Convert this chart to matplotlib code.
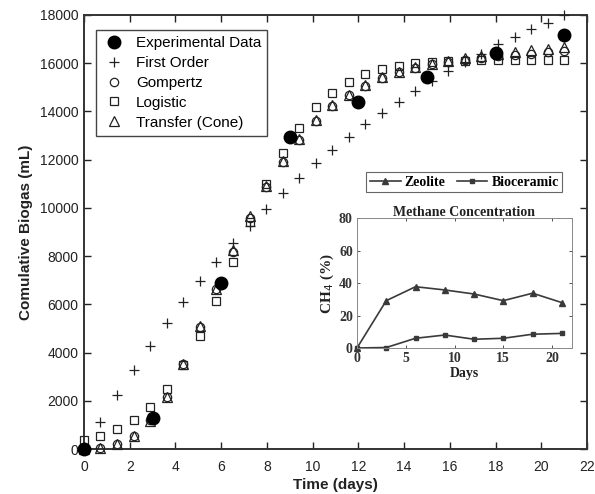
import matplotlib
matplotlib.use("Agg")
import matplotlib.pyplot as plt

# ---------------- data ----------------
exp_days = [0, 3, 6, 9, 12, 15, 18, 21]
exp_biogas = [0, 1300, 6900, 12950, 14400, 15430, 16440, 17170]

model_days = [0.00, 0.72, 1.45, 2.17, 2.90, 3.62, 4.34, 5.07, 5.79, 6.52,
              7.24, 7.97, 8.69, 9.41, 10.14, 10.86, 11.59, 12.31, 13.03, 13.76,
              14.48, 15.21, 15.93, 16.66, 17.38, 18.10, 18.83, 19.55, 20.28, 21.00]

first_order = [0, 1130, 2240, 3280, 4270, 5210, 6090, 6970, 7770, 8530,
               9230, 9950, 10620, 11250, 11850, 12390, 12950, 13470, 13950, 14400,
               14860, 15260, 15680, 16060, 16400, 16780, 17100, 17400, 17680, 18000]

gompertz = [0, 60, 200, 550, 1200, 2170, 3530, 5050, 6620, 8160,
            9570, 10850, 11920, 12820, 13600, 14220, 14680, 15050, 15380, 15620,
            15800, 15950, 16060, 16150, 16230, 16300, 16350, 16400, 16450, 16500]

logistic = [370, 550, 815, 1200, 1730, 2490, 3470, 4690, 6150, 7740,
            9430, 11000, 12260, 13330, 14170, 14780, 15230, 15550, 15750, 15890,
            16000, 16060, 16090, 16110, 16120, 16130, 16140, 16140, 16150, 16150]

transfer = [0, 60, 200, 550, 1150, 2170, 3530, 5120, 6650, 8250,
            9650, 10900, 11950, 12850, 13650, 14250, 14700, 15080, 15420, 15650,
            15830, 15980, 16100, 16200, 16300, 16380, 16450, 16530, 16600, 16680]

inset_days = [0, 3, 6, 9, 12, 15, 18, 21]
zeolite = [0, 29.2, 37.8, 35.8, 33.3, 29.2, 33.8, 28.0]
bioceramic = [0, 0.3, 6.0, 8.0, 5.4, 6.0, 8.5, 9.0]

# ---------------- figure ----------------
W, H = 595, 494
fig = plt.figure(figsize=(W / 100, H / 100), dpi=100)
sans = ['Liberation Sans', 'DejaVu Sans']
serif = ['Liberation Serif', 'DejaVu Serif']

ax = fig.add_axes([84 / W, 45 / H, (587 - 84) / W, (449 - 15) / H])
ink = '#222222'

ax.plot(model_days, first_order, ls='none', marker='+', ms=7, mew=0.9,
        color=ink, label='First Order', clip_on=False, zorder=3)
ax.plot(model_days, gompertz, ls='none', marker='o', ms=6, mew=0.9,
        mfc='none', mec=ink, label='Gompertz', clip_on=False, zorder=3)
ax.plot(model_days, logistic, ls='none', marker='s', ms=5.5, mew=0.9,
        mfc='none', mec=ink, label='Logistic', clip_on=False, zorder=3)
ax.plot(model_days, transfer, ls='none', marker='^', ms=6.5, mew=0.9,
        mfc='none', mec=ink, label='Transfer (Cone)', clip_on=False, zorder=3)
ax.plot(exp_days, exp_biogas, ls='none', marker='o', ms=9,
        color='black', label='Experimental Data', clip_on=False, zorder=4)

ax.set_xlim(0, 22)
ax.set_ylim(0, 18000)
ax.set_xticks(range(0, 23, 2))
ax.set_yticks(range(0, 18001, 2000))
ax.tick_params(direction='in', length=5, width=1.0, top=True, right=True,
               labelsize=10, colors=ink, pad=4)
ax.tick_params(axis='x', pad=8)
for lab in ax.get_xticklabels() + ax.get_yticklabels():
    lab.set_family(sans)
for s in ax.spines.values():
    s.set_linewidth(1.4)
    s.set_color('#333333')

ax.set_xlabel('Time (days)', fontsize=11, fontweight='bold', family=sans,
              labelpad=3, color=ink)
ax.set_ylabel('Comulative Biogas (mL)', fontsize=11, fontweight='bold',
              family=sans, labelpad=5, color=ink)

handles, labels = ax.get_legend_handles_labels()
order = [4, 0, 1, 2, 3]
leg = ax.legend([handles[i] for i in order], [labels[i] for i in order],
                loc='upper left', bbox_to_anchor=(0.024, 0.965),
                borderaxespad=0, fancybox=False, framealpha=1,
                edgecolor='#444444', prop={'family': sans, 'size': 11},
                labelspacing=0.38, handlelength=1.6, handletextpad=0.6,
                borderpad=0.4)
leg.get_frame().set_linewidth(1.0)

# ---------------- inset ----------------
ia = fig.add_axes([357 / W, (494 - 348) / H, (571.6 - 357) / W, (348 - 218.3) / H])
line_c = '#3a3a3a'
ia.plot(inset_days, zeolite, color=line_c, lw=1.2, marker='^', ms=4,
        label='Zeolite', clip_on=False)
ia.plot(inset_days, bioceramic, color=line_c, lw=1.2, marker='s', ms=3,
        label='Bioceramic', clip_on=False)
ia.set_xlim(0, 22)
ia.set_ylim(0, 80)
ia.set_xticks([0, 5, 10, 15, 20])
ia.set_yticks([0, 20, 40, 60, 80])
ia.tick_params(direction='in', length=2.5, width=0.6, top=True, right=True,
               labelsize=10, colors='#333333', pad=3)
for lab in ia.get_xticklabels() + ia.get_yticklabels():
    lab.set_family(serif)
    lab.set_fontweight('bold')
for s in ia.spines.values():
    s.set_linewidth(0.7)
    s.set_color('#888888')
ia.set_title('Methane Concentration', fontsize=10, fontweight='bold',
             family=serif, pad=2, color='#222222')
ia.set_xlabel('Days', fontsize=10, fontweight='bold', family=serif,
              labelpad=1, color='#222222')
ia.set_ylabel('CH$_4$ (%)', fontsize=11, fontweight='bold', family=serif,
              labelpad=2, color='#222222')
il = ia.legend(loc='center', bbox_to_anchor=(0.5, 1.277), ncol=2,
               fancybox=False, framealpha=1, edgecolor='#666666',
               prop={'family': serif, 'size': 10, 'weight': 'bold'},
               handlelength=2.2, handletextpad=0.3, columnspacing=0.8,
               borderpad=0.25, borderaxespad=0)
il.get_frame().set_linewidth(0.8)

fig.savefig('out.png', dpi=100)
